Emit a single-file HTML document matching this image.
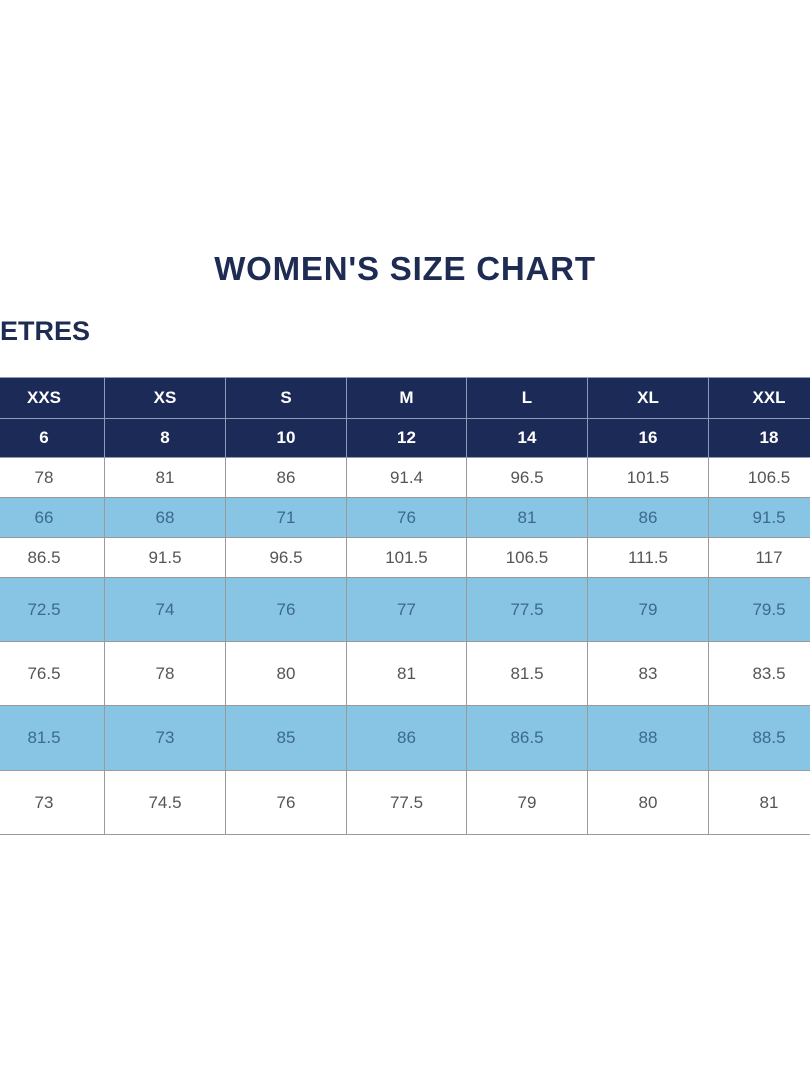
<!DOCTYPE html>
<html><head><meta charset="utf-8"><style>
body{margin:0;width:810px;height:1080px;background:#fff;position:relative;overflow:hidden;font-family:"Liberation Sans",sans-serif}
.t{position:absolute;left:0;width:810px;top:250px;text-align:center;font-size:33px;font-weight:bold;color:#1e2b52;letter-spacing:0.8px}
.s{position:absolute;left:0;top:316px;font-size:27px;font-weight:bold;color:#1e2b52}
table{position:absolute;left:-17px;top:377px;width:846px;border-collapse:collapse;table-layout:fixed}
td{border:1px solid #9a9a9a;text-align:center;font-size:17px;color:#555;padding:0}
tr.h td{background:#1c2a58;color:#fff;font-weight:bold;border-color:#8d9ab8;font-size:17px}
tr.b td{background:#88c4e4;color:#3b6a90}
</style></head><body>
<div class="t">WOMEN'S SIZE CHART</div>
<div class="s">ETRES</div>
<table>
<colgroup><col style="width:121px"><col style="width:121px"><col style="width:121px"><col style="width:120px"><col style="width:121px"><col style="width:121px"><col style="width:121px"></colgroup>
<tr class="h" style="height:41px"><td>XXS</td><td>XS</td><td>S</td><td>M</td><td>L</td><td>XL</td><td>XXL</td></tr>
<tr class="h" style="height:39px"><td>6</td><td>8</td><td>10</td><td>12</td><td>14</td><td>16</td><td>18</td></tr>
<tr style="height:40px"><td>78</td><td>81</td><td>86</td><td>91.4</td><td>96.5</td><td>101.5</td><td>106.5</td></tr>
<tr class="b" style="height:40px"><td>66</td><td>68</td><td>71</td><td>76</td><td>81</td><td>86</td><td>91.5</td></tr>
<tr style="height:40px"><td>86.5</td><td>91.5</td><td>96.5</td><td>101.5</td><td>106.5</td><td>111.5</td><td>117</td></tr>
<tr class="b" style="height:64px"><td>72.5</td><td>74</td><td>76</td><td>77</td><td>77.5</td><td>79</td><td>79.5</td></tr>
<tr style="height:64px"><td>76.5</td><td>78</td><td>80</td><td>81</td><td>81.5</td><td>83</td><td>83.5</td></tr>
<tr class="b" style="height:65px"><td>81.5</td><td>73</td><td>85</td><td>86</td><td>86.5</td><td>88</td><td>88.5</td></tr>
<tr style="height:64px"><td>73</td><td>74.5</td><td>76</td><td>77.5</td><td>79</td><td>80</td><td>81</td></tr>
</table>
</body></html>
